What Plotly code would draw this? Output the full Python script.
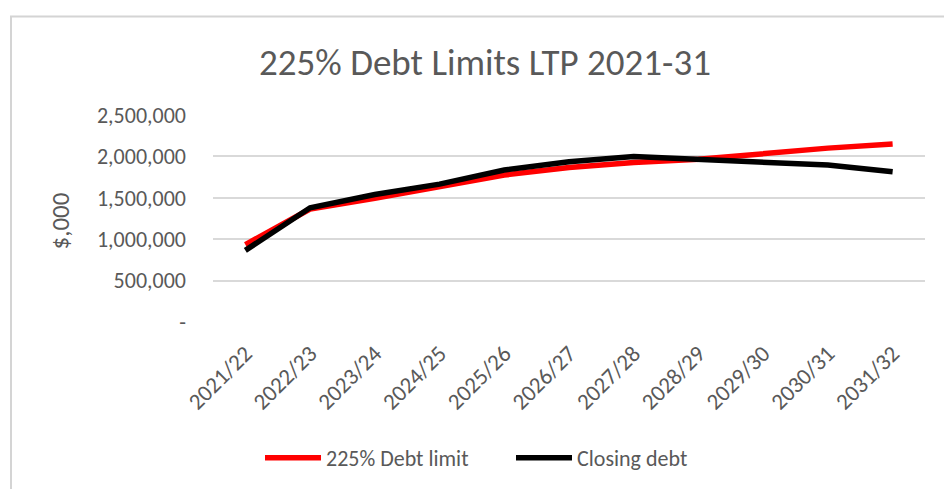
import plotly.graph_objects as go

# Financial years covered by the plan
years = ["2021/22", "2022/23", "2023/24", "2024/25", "2025/26", "2026/27",
         "2027/28", "2028/29", "2029/30", "2030/31", "2031/32"]

# 225% of revenue debt limit ($,000)
debt_limit = [935000, 1365000, 1495000, 1635000, 1775000, 1865000,
              1925000, 1965000, 2040000, 2100000, 2150000]

# Forecast closing debt ($,000)
closing_debt = [865000, 1380000, 1540000, 1665000, 1835000, 1935000,
                2000000, 1965000, 1940000, 1895000, 1815000]

y_ticks = [0, 500000, 1000000, 1500000, 2000000, 2500000]
y_tick_text = ["-", "500,000", "1,000,000", "1,500,000", "2,000,000", "2,500,000"]

FONT = "Carlito, Calibri, Lato, sans-serif"
GREY = "#595959"

W, H = 944, 489
L, R, T, B = 213, 19, 115, 166
pw, ph = W - L - R, H - T - B


def px_x(x):
    return (x - L) / pw


def px_y(y):
    return (H - B - y) / ph


fig = go.Figure()
fig.add_trace(go.Scatter(x=years, y=debt_limit, mode="lines",
                         name="225% Debt limit",
                         line=dict(color="#ff0000", width=5.5)))
fig.add_trace(go.Scatter(x=years, y=closing_debt, mode="lines",
                         name="Closing debt",
                         line=dict(color="#000000", width=5.5)))

fig.update_layout(
    width=W, height=H,
    margin=dict(l=L, r=R, t=T, b=B),
    paper_bgcolor="white", plot_bgcolor="white",
    font=dict(family=FONT, color=GREY),
    title=dict(text="225% Debt Limits LTP 2021-31",
               font=dict(size=37, color=GREY, family=FONT),
               x=px_x(485), xref="paper", xanchor="center",
               y=1 - 62 / H, yref="container", yanchor="middle"),
    xaxis=dict(type="category", tickangle=-45,
               tickfont=dict(size=23, color=GREY),
               showgrid=False, showline=False,
               ticks="outside", ticklen=8, tickcolor="rgba(0,0,0,0)",
               range=[-0.5, len(years) - 0.5]),
    yaxis=dict(range=[0, 2500000], tickvals=y_ticks, ticktext=y_tick_text,
               tickfont=dict(size=22, color=GREY),
               showgrid=True, gridcolor="#d9d9d9", gridwidth=1.5,
               zeroline=False, showline=False, ticks="",
               ticklabelstandoff=26),
    legend=dict(orientation="h", x=px_x(511), xanchor="center",
                y=px_y(458), yanchor="middle",
                font=dict(size=22, color=GREY),
                itemwidth=56, entrywidth=180, entrywidthmode="pixels",
                tracegroupgap=0),
    showlegend=True,
)

# Rotated y-axis title
fig.add_annotation(text="$,000", textangle=-90, showarrow=False,
                   xref="paper", yref="paper",
                   x=px_x(60), y=px_y(222), xanchor="center", yanchor="middle",
                   font=dict(size=25, color=GREY, family=FONT))

# Chart frame
fig.add_shape(type="rect", xref="paper", yref="paper",
              x0=px_x(11), x1=px_x(960), y0=px_y(16), y1=px_y(500),
              line=dict(color="#d4d4d4", width=2), fillcolor="rgba(0,0,0,0)",
              layer="below")

fig.write_html("out.html")
